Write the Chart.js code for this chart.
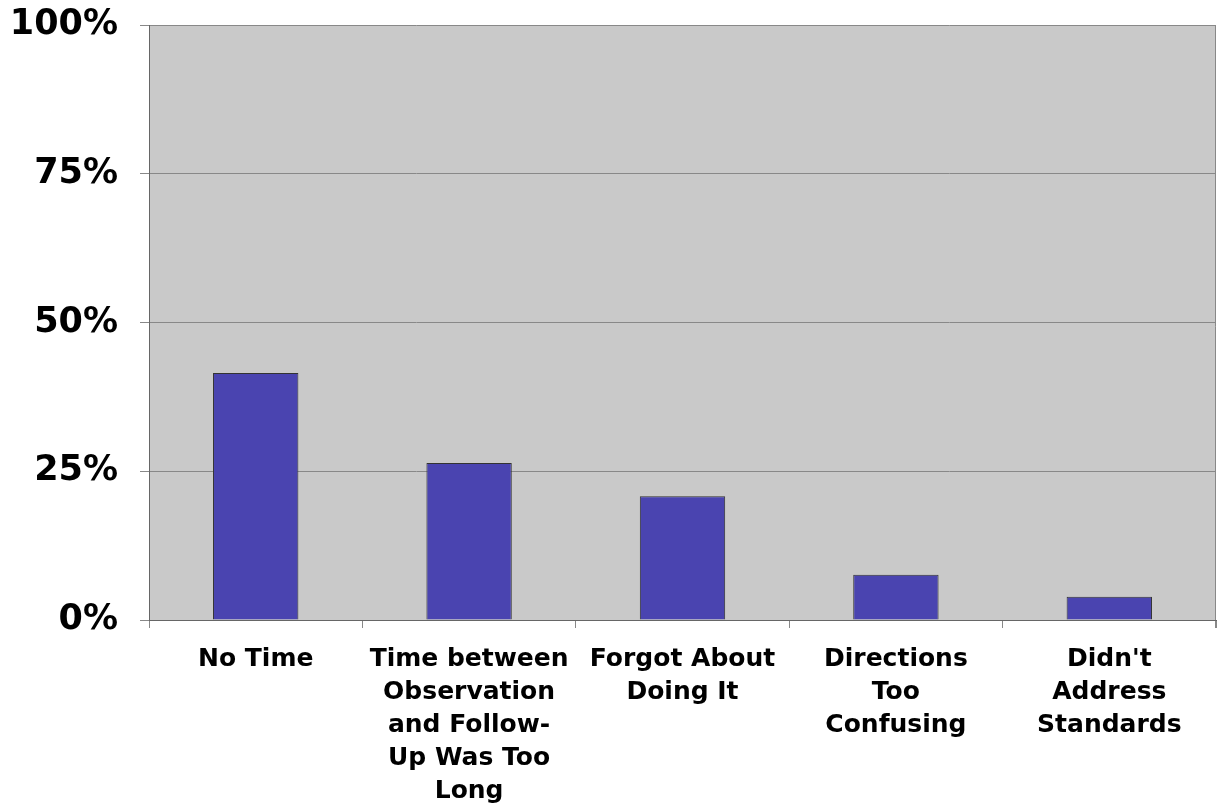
<!DOCTYPE html>
<html>
<head>
<title>Reasons</title>
<script src="https://cdn.jsdelivr.net/npm/chart.js"></script>
<style>
  body { margin: 0; background: #fff; }
  #chartContainer { width: 1217px; height: 806px; }
</style>
</head>
<body>
  <div id="chartContainer">
    <canvas id="reasonChart"></canvas>
  </div>

  <script>
    // Data
    const categories = [
      ["No Time"],
      ["Time between", "Observation", "and Follow-", "Up Was Too", "Long"],
      ["Forgot About", "Doing It"],
      ["Directions", "Too", "Confusing"],
      ["Didn't", "Address", "Standards"]
    ];
    const shares = [0.415, 0.264, 0.208, 0.076, 0.039];
    const yTicks = [0, 0.25, 0.5, 0.75, 1];

    // grey plot background
    const plotBackground = {
      id: 'plotBackground',
      beforeDraw(chart) {
        const { ctx, chartArea: a } = chart;
        ctx.save();
        ctx.fillStyle = '#c9c9c9';
        ctx.fillRect(a.left, a.top, a.right - a.left, a.bottom - a.top);
        ctx.strokeStyle = '#888';
        ctx.lineWidth = 1;
        ctx.beginPath();
        ctx.moveTo(a.right - 0.5, a.top);
        ctx.lineTo(a.right - 0.5, a.bottom + 8);
        ctx.stroke();
        ctx.restore();
      }
    };

    const ctx = document.getElementById("reasonChart").getContext("2d");

    new Chart(ctx, {
      type: "bar",
      data: {
        labels: categories,
        datasets: [{
          data: shares,
          backgroundColor: "#4a44b0",
          borderColor: "#333",
          borderWidth: 1,
          categoryPercentage: 1,
          barPercentage: 0.4
        }]
      },
      options: {
        responsive: true,
        maintainAspectRatio: false,
        animation: false,
        layout: { padding: { left: 0, right: 1, top: 25, bottom: 0 } },
        plugins: {
          legend: { display: false },
          tooltip: { enabled: false }
        },
        scales: {
          x: {
            offset: true,
            afterFit: (scale) => {
              scale.height = 186;
              scale.paddingLeft = 0;
              scale.paddingRight = 0;
            },
            grid: {
              offset: true,
              drawOnChartArea: false,
              color: '#888',
              tickLength: 8
            },
            border: { color: '#666', width: 1 },
            ticks: {
              color: '#000',
              maxRotation: 0,
              autoSkip: false,
              padding: 15,
              font: { family: 'DejaVu Sans', weight: 'bold', size: 25, lineHeight: 1.32 }
            }
          },
          y: {
            min: 0,
            max: 1,
            afterFit: (scale) => {
              scale.width = 149;
              scale.paddingTop = 0;
              scale.paddingBottom = 0;
            },
            afterBuildTicks: (scale) => { scale.ticks = yTicks.map(v => ({ value: v })); },
            grid: {
              color: '#888',
              tickLength: 9
            },
            border: { color: '#666', width: 1 },
            ticks: {
              color: '#000',
              padding: 22,
              callback: (value) => Math.round(value * 100) + '%',
              font: { family: 'DejaVu Sans', weight: 'bold', size: 35 }
            }
          }
        }
      },
      plugins: [plotBackground]
    });
  </script>
</body>
</html>
